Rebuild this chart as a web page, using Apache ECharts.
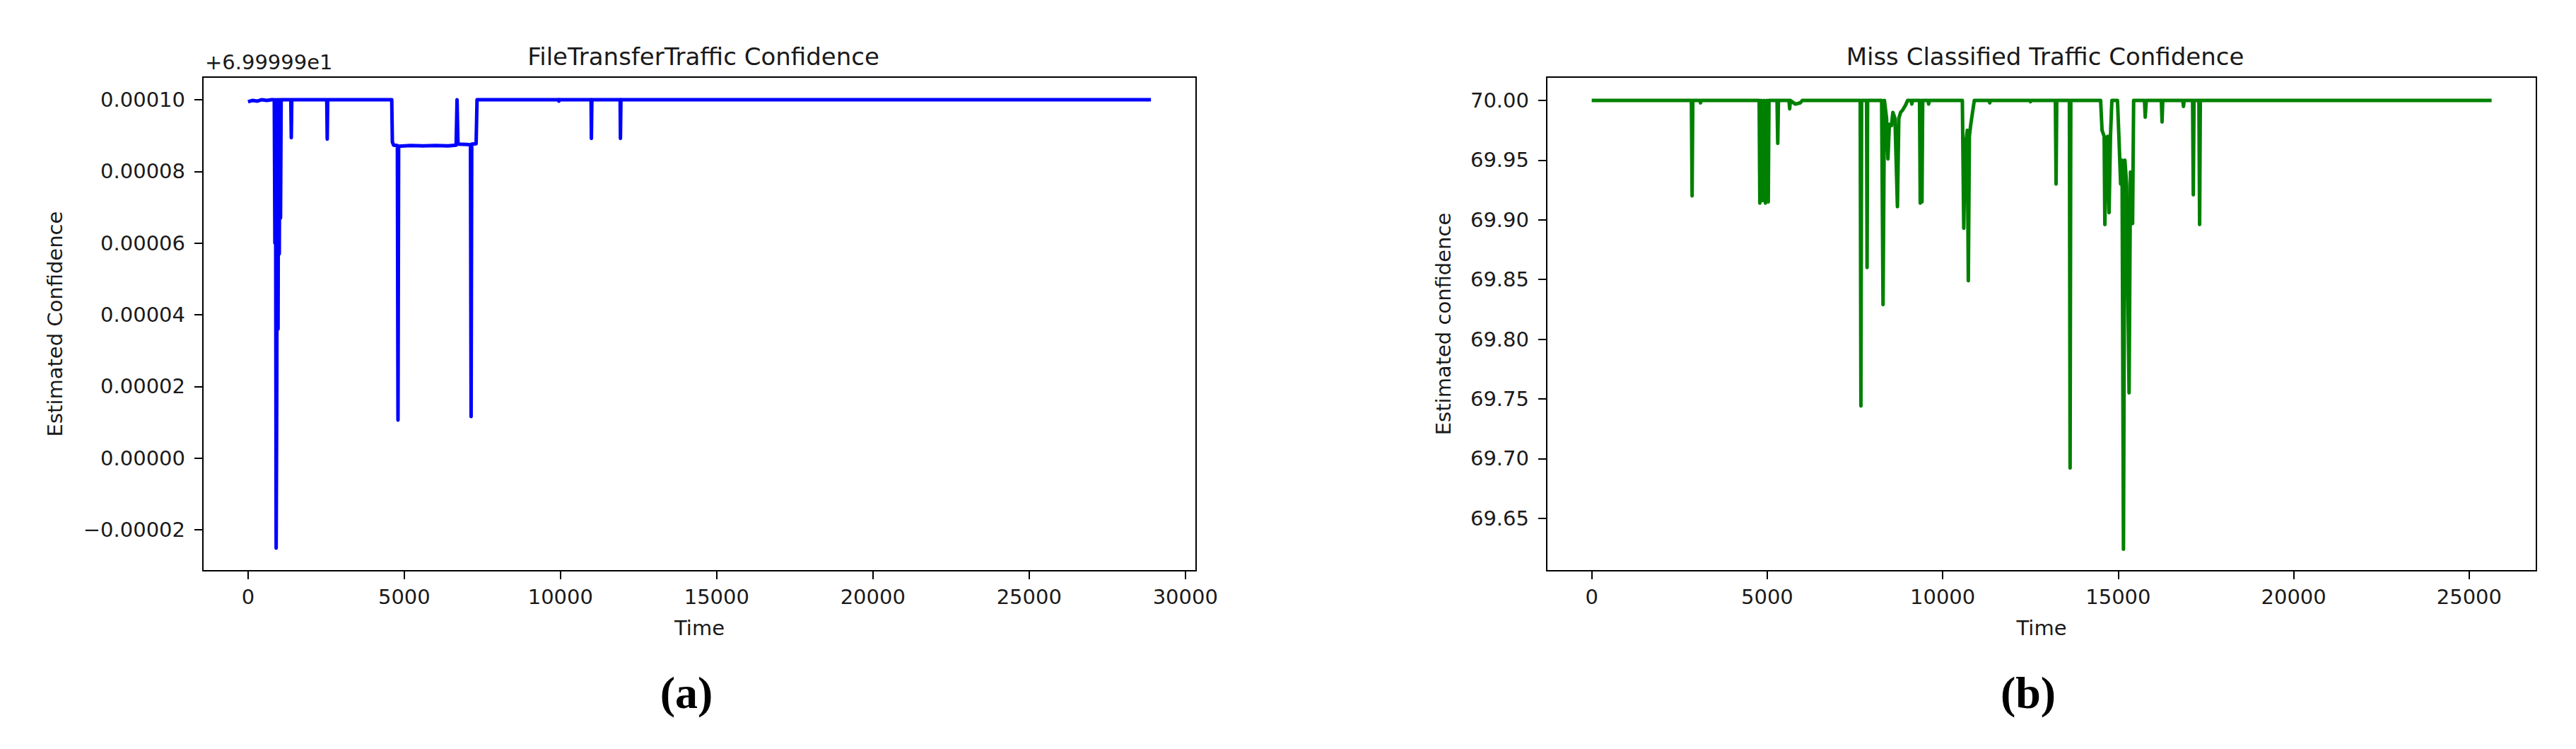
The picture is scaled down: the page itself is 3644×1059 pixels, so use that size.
<!DOCTYPE html>
<html>
<head>
<meta charset="utf-8">
<script src="https://cdn.jsdelivr.net/npm/echarts@6/dist/echarts.min.js"></script>
<style>
  html, body { margin: 0; padding: 0; background: #fff; }
  #main { width: 3644px; height: 1059px; }
</style>
</head>
<body>
<div id="main"></div>
<script>
// (a) FileTransferTraffic: values are offsets from 69.9999 (axis shows "+6.99999e1")
var ftTime = [0, 150, 300, 450, 600, 750,
  840, 860, 880, 900, 920, 940, 960, 980, 1000, 1020, 1040, 1060,
  1370, 1385, 1400, 2520, 2535, 2550,
  4600, 4620, 4660, 4780, 4800, 4820, 5200, 5600, 6000, 6400, 6660, 6690, 6720, 7000, 7120, 7140, 7160, 7300, 7330,
  9940, 9950, 9960, 10980, 10990, 11005, 11910, 11920, 11935, 28900];
var ftConf = [0.0000994, 0.0000998, 0.0000996, 0.0001, 0.0000998, 0.0001,
  0.0001, 0.0000600, 0.0001, -0.0000251, 0.0000195, 0.0001, 0.0000360, 0.0001, 0.0000570, 0.0001, 0.0000670, 0.0001,
  0.0001, 0.0000894, 0.0001, 0.0001, 0.0000890, 0.0001,
  0.0001, 0.0000882, 0.0000873, 0.0000872, 0.0000106, 0.0000870, 0.0000872, 0.0000871, 0.0000872, 0.0000871, 0.0000873, 0.0001, 0.0000876, 0.0000875, 0.0000874, 0.0000116, 0.0000876, 0.0000877, 0.0001,
  0.0001, 0.0000996, 0.0001, 0.0001, 0.0000892, 0.0001, 0.0001, 0.0000892, 0.0001, 0.0001];
var ftTicksY = [-0.00002, 0, 0.00002, 0.00004, 0.00006, 0.00008, 0.0001];
var ftTicksX = [0, 5000, 10000, 15000, 20000, 25000, 30000];

// (b) Miss Classified Traffic
var msTime = [0,
  2840, 2860, 2880, 3080, 3100, 3120,
  4770, 4790, 4830, 4870, 4910, 4950, 4990, 5030, 5050,
  5280, 5300, 5320, 5620, 5640, 5660, 5800, 5940, 6000,
  7650, 7670, 7690, 7830, 7845, 7860,
  8260, 8300, 8340, 8400, 8440, 8480, 8540, 8580, 8640, 8710, 8750, 8800, 8860, 8940, 9000,
  9100, 9120, 9140, 9340, 9360, 9390, 9410, 9430, 9580, 9600, 9620,
  10560, 10600, 10640, 10700, 10730, 10760, 10800, 10850, 10900,
  11330, 11340, 11360, 12480, 12500, 12520,
  13210, 13230, 13250, 13610, 13630, 13650,
  14500, 14540, 14600, 14620, 14660, 14700, 14740, 14780, 14820,
  14980, 15020, 15070, 15110, 15150, 15190, 15240, 15310, 15350, 15410, 15440,
  15750, 15770, 15800, 16230, 16250, 16270, 16840, 16860, 16880,
  17120, 17140, 17160, 17300, 17320, 17340, 25640];
var msConf = [70.0,
  70.0, 69.920, 70.0, 70.0, 69.998, 70.0,
  70.0, 69.914, 70.0, 69.916, 70.0, 69.914, 70.0, 69.915, 70.0,
  70.0, 69.964, 70.0, 70.0, 69.993, 70.0, 69.997, 69.998, 70.0,
  70.0, 69.744, 70.0, 70.0, 69.860, 70.0,
  70.0, 69.829, 70.0, 69.985, 69.951, 69.980, 69.979, 69.990, 69.985, 69.911, 69.985, 69.990, 69.992, 69.996, 70.0,
  70.0, 69.997, 70.0, 70.0, 69.914, 70.0, 69.915, 70.0, 70.0, 69.997, 70.0,
  70.0, 69.893, 69.960, 69.975, 69.849, 69.970, 69.980, 69.990, 70.0,
  70.0, 69.998, 70.0, 70.0, 69.999, 70.0,
  70.0, 69.930, 70.0, 70.0, 69.692, 70.0,
  70.0, 69.975, 69.970, 69.896, 69.960, 69.970, 69.906, 69.970, 70.0,
  70.0, 69.970, 69.930, 69.950, 69.624, 69.950, 69.930, 69.755, 69.940, 69.897, 70.0,
  70.0, 69.986, 70.0, 70.0, 69.982, 70.0, 70.0, 69.995, 70.0,
  70.0, 69.921, 70.0, 70.0, 69.896, 70.0, 70.0];
var msTicksY = [69.65, 69.70, 69.75, 69.80, 69.85, 69.90, 69.95, 70.00];
var msTicksX = [0, 5000, 10000, 15000, 20000, 25000];

function pairs(xs, ys) {
  return xs.map(function (x, i) { return [x, ys[i]]; });
}

var FONT = 'DejaVu Sans';
var TXT = '#1a1a1a';

function xAxisFor(idx, min, max, ticks) {
  return {
    type: 'value', gridIndex: idx, min: min, max: max,
    name: 'Time', nameLocation: 'middle', nameGap: 66,
    nameTextStyle: { fontFamily: FONT, fontSize: 29, color: TXT },
    axisLine: { show: true, onZero: false, lineStyle: { color: '#000', width: 2 } },
    axisTick: { show: true, customValues: ticks, length: 12, lineStyle: { color: '#000', width: 2 } },
    axisLabel: { customValues: ticks, margin: 22, fontFamily: FONT, fontSize: 29, color: TXT,
      formatter: function (v) { return String(v); } },
    splitLine: { show: false }
  };
}

function yAxisFor(idx, min, max, ticks, name, gap, fmt) {
  return {
    type: 'value', gridIndex: idx, min: min, max: max,
    name: name, nameLocation: 'middle', nameGap: gap,
    nameTextStyle: { fontFamily: FONT, fontSize: 29, color: TXT },
    axisLine: { show: true, onZero: false, lineStyle: { color: '#000', width: 2 } },
    axisTick: { show: true, customValues: ticks, length: 12, lineStyle: { color: '#000', width: 2 } },
    axisLabel: { customValues: ticks, margin: 25, fontFamily: FONT, fontSize: 29, color: TXT, formatter: fmt },
    splitLine: { show: false }
  };
}

var myChart = echarts.init(document.getElementById('main'), null, { renderer: 'svg' });
myChart.setOption({
  backgroundColor: '#fff',
  animation: false,
  title: [
    { text: 'FileTransferTraffic Confidence', left: 990, top: 58, textAlign: 'center',
      textStyle: { fontFamily: FONT, fontSize: 34, fontWeight: 'normal', color: TXT } },
    { text: 'Miss Classified Traffic Confidence', left: 2888, top: 58, textAlign: 'center',
      textStyle: { fontFamily: FONT, fontSize: 34, fontWeight: 'normal', color: TXT } },
    { text: '(a)', left: 966, top: 942, textAlign: 'center',
      textStyle: { fontFamily: 'Liberation Serif', fontSize: 64, fontWeight: 'bold', color: '#000' } },
    { text: '(b)', left: 2864, top: 942, textAlign: 'center',
      textStyle: { fontFamily: 'Liberation Serif', fontSize: 64, fontWeight: 'bold', color: '#000' } }
  ],
  graphic: [
    { type: 'text', left: 290, top: 73,
      style: { text: '+6.99999e1', font: '29px "DejaVu Sans"', fill: TXT } }
  ],
  grid: [
    { left: 287, top: 109, width: 1405, height: 698, show: true, borderColor: '#000', borderWidth: 2 },
    { left: 2188, top: 109, width: 1400, height: 698, show: true, borderColor: '#000', borderWidth: 2 }
  ],
  xAxis: [
    xAxisFor(0, -1445, 30345, ftTicksX),
    xAxisFor(1, -1282, 26916, msTicksX)
  ],
  yAxis: [
    yAxisFor(0, -0.0000314, 0.0001063, ftTicksY, 'Estimated Confidence', 195, function (v) {
      return (v < -1e-12 ? '\u2212' : '') + Math.abs(v).toFixed(5);
    }),
    yAxisFor(1, 69.606, 70.0196, msTicksY, 'Estimated confidence', 132, function (v) {
      return v.toFixed(2);
    })
  ],
  series: [
    { type: 'line', xAxisIndex: 0, yAxisIndex: 0, data: pairs(ftTime, ftConf),
      showSymbol: false, color: '#0000ff',
      lineStyle: { color: '#0000ff', width: 5, join: 'round' } },
    { type: 'line', xAxisIndex: 1, yAxisIndex: 1, data: pairs(msTime, msConf),
      showSymbol: false, color: '#008000',
      lineStyle: { color: '#008000', width: 5, join: 'round' } }
  ]
});
</script>
</body>
</html>
